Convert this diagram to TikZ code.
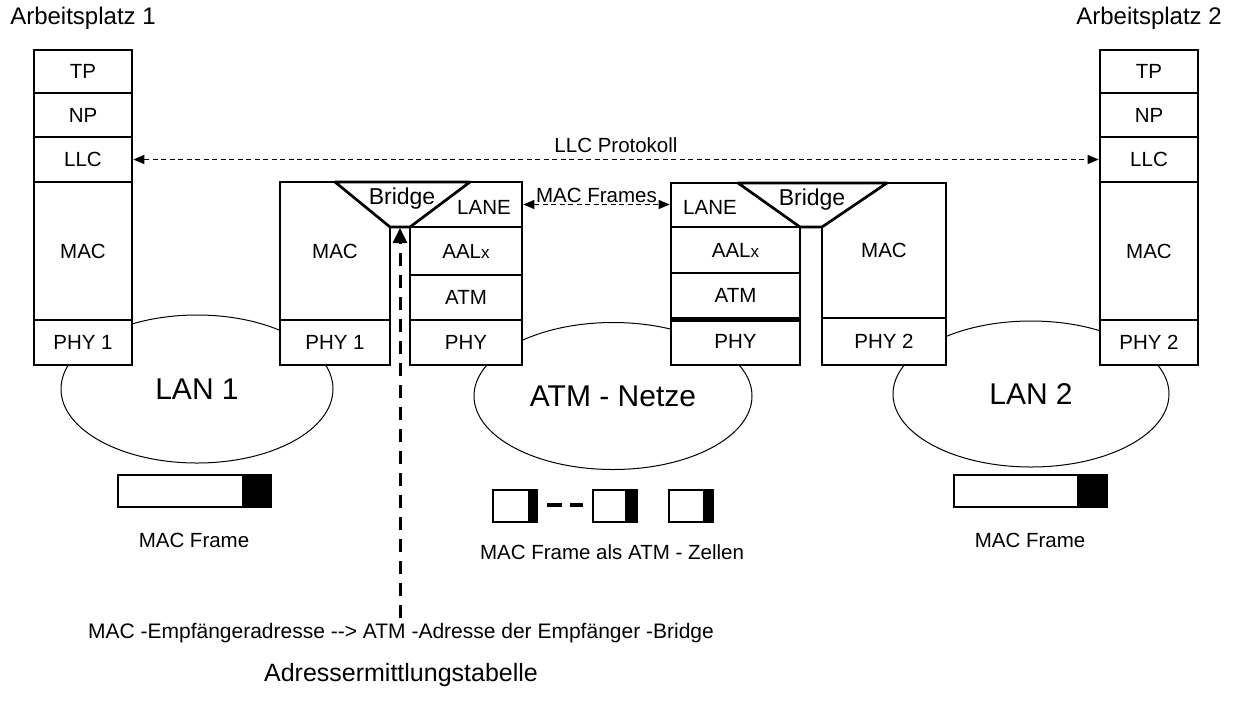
\documentclass[tikz,border=0pt]{standalone}
\usepackage{fontspec}
\setmainfont{Liberation Sans}
\usepackage{tikz}
\usetikzlibrary{arrows.meta,shapes.geometric}

\begin{document}
\begin{tikzpicture}[x=1pt,y=-1pt,
  layer/.style={draw,line width=2.7pt,fill=white,inner sep=0pt,font=\fontsize{20.5}{24}\selectfont},
  txt/.style={inner sep=0pt,font=\fontsize{20.5}{24}\selectfont},
  net/.style={draw,line width=1pt,ellipse,inner sep=0pt,font=\fontsize{30}{34}\selectfont},
  frm/.style={draw,line width=1.2pt},
  wedge/.style={draw,line width=2.7pt,fill=white,line join=round}]
\useasboundingbox (0,0) rectangle (1236,713);
% the three networks (boxes are drawn on top)
\node[net,minimum width=272,minimum height=148] (lan1) at (197,389) {LAN 1};
\node[net,minimum width=278,minimum height=147] (atmnet) at (613,396) {ATM - Netze};
\node[net,minimum width=276,minimum height=146] (lan2) at (1031,394) {LAN 2};
% end stations
\foreach \cx/\n in {83/1,1149/2} {
  \node[txt,font=\fontsize{24}{27}\selectfont] (ap\n) at (\cx,18) {Arbeitsplatz \n};
  \node[layer,minimum width=98,minimum height=43] (tp\n) at (\cx,71.5) {TP};
  \node[layer,minimum width=98,minimum height=44] (np\n) at (\cx,115) {NP};
  \node[layer,minimum width=98,minimum height=45] (llc\n) at (\cx,159.5) {LLC};
  \node[layer,minimum width=98,minimum height=138] (mac\n) at (\cx,251) {MAC};
  \node[layer,minimum width=98,minimum height=45] (phy\n) at (\cx,342.5) {PHY \n};
}
% bridge 1
\node[layer,minimum width=110,minimum height=138] (bmac1) at (335,251) {MAC};
\node[layer,minimum width=110,minimum height=45] (bphy1) at (335,342.5) {PHY 1};
\node[layer,minimum width=112,minimum height=45] (lane1) at (466,204.5) {};
\node[layer,minimum width=112,minimum height=48] (aal1) at (466,251) {AAL{\fontsize{17}{20}\selectfont x}};
\node[layer,minimum width=112,minimum height=45] (atm1) at (466,297.5) {ATM};
\node[layer,minimum width=112,minimum height=45] (aphy1) at (466,342.5) {PHY};
\draw[wedge] (335,182) -- (470,182) -- (410,227) -- (390,227) -- cycle;
\node[txt,font=\fontsize{23}{26}\selectfont] (br1) at (402,199) {Bridge};
\node[txt] (lanet1) at (484,207) {LANE};
\coordinate (br1s) at (400,228);
% bridge 2
\node[layer,minimum width=129,minimum height=44] (lane2) at (735.5,205) {};
\node[layer,minimum width=129,minimum height=46] (aal2) at (735.5,250) {AAL{\fontsize{17}{20}\selectfont x}};
\node[layer,minimum width=129,minimum height=45] (atm2) at (735.5,295.5) {ATM};
\node[layer,minimum width=129,minimum height=47] (aphy2) at (735.5,341.5) {PHY};
\draw[line width=5pt] (atm2.south west) -- (atm2.south east);
\node[layer,minimum width=124,minimum height=135] (bmac2) at (884,250.5) {MAC};
\node[layer,minimum width=124,minimum height=47] (bphy2) at (884,341.5) {PHY 2};
\draw[wedge] (738,183) -- (887,183) -- (822,227) -- (800,227) -- cycle;
\node[txt,font=\fontsize{23}{26}\selectfont] (br2) at (812,200) {Bridge};
\node[txt] (lanet2) at (710,207) {LANE};
% peer protocols
\draw[line width=1.2pt,dash pattern=on 5pt off 3.5pt,{Triangle[length=11pt,width=9pt]}-{Triangle[length=11pt,width=9pt]}]
  (llc1.east) -- (llc2.west) node[txt,midway,above=6pt] (llcp) {LLC Protokoll};
\draw[line width=1.2pt,dash pattern=on 5pt off 3.5pt,{Triangle[length=11pt,width=9pt]}-{Triangle[length=11pt,width=9pt]}]
  (lane1.east) -- (lane1.east -| lane2.west) node[txt,midway,above=1pt] (macf) {MAC Frames};
% frames
\draw[frm] (118,475) rectangle (243,507);
\filldraw[frm] (243,475) rectangle (271,507);
\draw[frm] (954,475) rectangle (1078,507);
\filldraw[frm] (1078,475) rectangle (1107,507);
\foreach \a/\b/\c in {493/529/537,593/626/637,669/704/713} {
  \draw[frm] (\a,490) rectangle (\b,522);
  \filldraw[frm] (\b,490) rectangle (\c,522);
}
\draw[line width=4pt] (547,505) -- (562,505) (570,505) -- (583,505);
\node[txt] (mf1) at (194,540) {MAC Frame};
\node[txt] (mf2) at (1030,540) {MAC Frame};
\node[txt] (cells) at (612,552) {MAC Frame als ATM - Zellen};
% address resolution
\node[txt,font=\fontsize{21}{24}\selectfont,inner sep=5pt] (addr) at (401,633) {MAC -Empfängeradresse -{}-> ATM -Adresse der Empfänger -Bridge};
\node[txt,font=\fontsize{25}{28}\selectfont] (tab) at (401,675) {Adressermittlungstabelle};
\draw[line width=3pt,dash pattern=on 13pt off 9pt,-{Triangle[length=15pt,width=14pt]}] (addr.north -| br1s) -- (br1s);
\end{tikzpicture}
\end{document}
